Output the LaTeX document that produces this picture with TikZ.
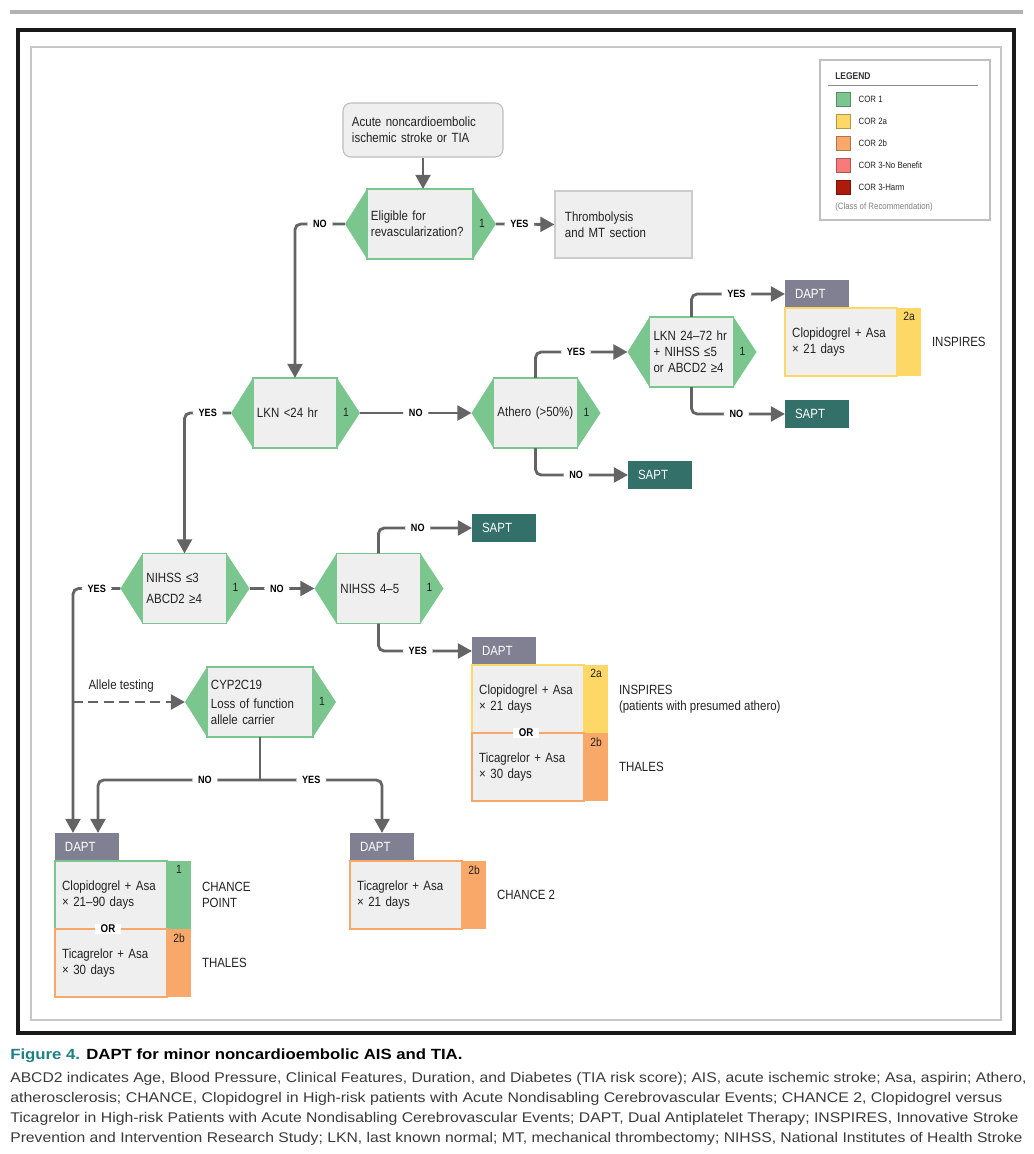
\documentclass[tikz,border=0pt]{standalone}
\usepackage{fontspec}
\setmainfont{Liberation Sans}[FakeStretch=0.86]
\newfontfamily\capfont{Liberation Sans}
\usetikzlibrary{arrows.meta,calc,positioning}

\definecolor{corgreen}{HTML}{7BC68E}
\definecolor{coryellow}{HTML}{FDD867}
\definecolor{cororange}{HTML}{F8A868}
\definecolor{corpink}{HTML}{F87B7B}
\definecolor{corred}{HTML}{AE1A0C}
\definecolor{saptteal}{HTML}{33706A}
\definecolor{daptgray}{HTML}{817F92}
\definecolor{boxgray}{HTML}{EFEFEF}
\definecolor{flowgray}{HTML}{646464}
\definecolor{txtdark}{HTML}{222222}
\definecolor{figteal}{HTML}{1F7F86}
\definecolor{capgray}{HTML}{3A3A3A}

\newcommand{\maintext}{\fontsize{9.5}{11.4}\selectfont}

% green side wedges of a decision, with its class number
\newcommand{\wings}[1]{%
  \fill[corgreen] (#1.north west) -- ($(#1.west)+(-22,0)$) coordinate (#1-l) -- (#1.south west) -- cycle;
  \fill[corgreen] (#1.north east) -- ($(#1.east)+(23,0)$) coordinate (#1-r) -- (#1.south east) -- cycle;
  \node[font=\fontsize{8.5}{9}\selectfont, text=txtdark] (#1-c) at ($(#1.east)+(9,-1)$) {1};
}

\tikzset{
  flow/.style={draw=flowgray, line width=2pt, rounded corners=4pt, -{Triangle[length=10pt,width=10.5pt]}},
  link/.style={draw=flowgray, line width=2pt},
  lbl/.style={fill=white, text=black, font=\bfseries\fontsize{7.5}{8}\selectfont, inner xsep=0.15cm, inner ysep=1pt},
  dec/.style={draw=corgreen, fill=boxgray, line width=1.3pt, minimum height=1.75cm, text width=#1, inner xsep=0.1cm, align=left, font=\maintext, text=txtdark, outer sep=0pt},
  dec/.default=1.9cm,
  hd/.style={fill=#1, text=white, minimum height=0.7cm, text width=1.1cm, inner xsep=0.25cm, align=left, font=\maintext, outer sep=0pt},
  rec/.style={fill=boxgray, draw=#1, line width=1.4pt, minimum height=1.7cm, text width=2.44cm, inner xsep=0.18cm, align=left, font=\maintext, text=txtdark, anchor=north west, outer sep=0pt},
  strip/.style={fill=#1, minimum width=0.6cm, minimum height=1.7cm, inner sep=0pt, anchor=north west, outer sep=0pt},
  cls/.style={anchor=north, font=\fontsize{8.5}{9}\selectfont, text=txtdark, inner sep=3pt},
  ornode/.style={fill=white, text=black, font=\bfseries\fontsize{8}{9}\selectfont, inner xsep=0.15cm, inner ysep=0.5pt},
  study/.style={font=\maintext, text=txtdark, align=left},
  swatch/.style={fill=#1, draw=#1!70!black, line width=0.5pt, minimum size=0.35cm, inner sep=0pt},
  legtxt/.style={font=\fontsize{6.5}{7}\selectfont, text=txtdark, inner sep=0pt},
}

\begin{document}
\begin{tikzpicture}[x=0.025cm,y=-0.025cm]
\useasboundingbox (0,0) rectangle (1033,1154);

\fill[black!30] (10,10) rectangle (1023,14);
\draw[line width=2.5pt, black!90] (18,30) rectangle (1014,1033);
\draw[line width=0.8pt, black!22] (31,47) rectangle (1001,1020);

% legend
\draw[line width=0.8pt, black!25] (820,60) rectangle (990,220);
\node[anchor=west, font=\bfseries\fontsize{7}{8}\selectfont, text=black!80, inner sep=0pt] (legtitle) at (835,76) {LEGEND};
\draw[black!45, line width=0.6pt] (828,85) -- (978,85);
\foreach \col/\txt [count=\i] in {corgreen/COR 1, coryellow/COR 2a, cororange/COR 2b, corpink/COR 3-No Benefit, corred/COR 3-Harm} {
  \node[swatch=\col] (sw\i) at (843,77+22*\i) {};
  \node[legtxt, right=0.2cm of sw\i] (lt\i) {\txt};
}
\node[anchor=west, legtxt, text=black!50] (legnote) at (835,207) {(Class of Recommendation)};

% decisions
\node[draw=black!25, fill=boxgray, line width=0.8pt, rounded corners=0.2cm, minimum height=1.35cm, text width=3.55cm, inner xsep=0.225cm, align=left, font=\maintext, text=txtdark] (start) at (423,130) {Acute noncardioembolic\\ischemic stroke or TIA};

\node[dec=2.45cm] (elig) at (420,224) {Eligible for\\revascularization?};
\wings{elig}
\node[draw=black!20, fill=boxgray, line width=0.8pt, minimum height=1.675cm, text width=2.925cm, inner xsep=0.25cm, align=left, font=\maintext, text=txtdark] (thr) at (623.5,224.5) {Thrombolysis\\and MT section};

\node[dec] (lkn) at (295,413) {LKN <24 hr};
\wings{lkn}
\node[dec] (athero) at (535.5,413) {Athero (>50\%)};
\wings{athero}
\node[dec] (lknlate) at (691.5,352) {LKN 24–72 hr\\+ NIHSS ≤5\\or ABCD2 ≥4};
\wings{lknlate}
\node[dec] (nihlow) at (184.5,588.5) {NIHSS ≤3\\[3pt]ABCD2 ≥4};
\wings{nihlow}
\node[dec] (nihmid) at (378.5,588.5) {NIHSS 4–5};
\wings{nihmid}
\node[dec=2.45cm] (cyp) at (260,702) {CYP2C19\\[2pt]Loss of function\\allele carrier};
\wings{cyp}

% outcomes
\node[hd=daptgray, anchor=west] (dapt1) at (785,294) {DAPT};
\node[rec=coryellow] (r1) at (dapt1.south west) {Clopidogrel + Asa\\× 21 days};
\node[strip=coryellow] (s1) at (r1.north east) {};
\node[cls] (c1) at (s1.north) {2a};
\node[study, right=0.15cm of s1] (st1) {INSPIRES};

\node[hd=saptteal, anchor=west] (sapt2) at (785,414) {SAPT};
\node[hd=saptteal, anchor=west] (sapt1) at (628,475) {SAPT};
\node[hd=saptteal, anchor=west] (sapt3) at (472,528) {SAPT};

\node[hd=daptgray, anchor=west] (dapt2) at (472,651) {DAPT};
\node[rec=coryellow] (r2a) at (dapt2.south west) {Clopidogrel + Asa\\× 21 days};
\node[strip=coryellow] (s2a) at (r2a.north east) {};
\node[cls] (c2a) at (s2a.north) {2a};
\node[rec=cororange] (r2b) at (r2a.south west) {Ticagrelor + Asa\\× 30 days};
\node[strip=cororange] (s2b) at (r2b.north east) {};
\node[cls] (c2b) at (s2b.north) {2b};
\node[ornode] (or2) at ($(r2a.south west)+(54,0)$) {OR};
\node[study, right=0.15cm of s2a] (st2a) {INSPIRES\\(patients with presumed athero)};
\node[study, right=0.15cm of s2b] (st2b) {THALES};

\node[hd=daptgray] (dapt3) at (87,847) {DAPT};
\node[rec=corgreen] (r3a) at (dapt3.south west) {Clopidogrel + Asa\\× 21–90 days};
\node[strip=corgreen] (s3a) at (r3a.north east) {};
\node[cls] (c3a) at (s3a.north) {1};
\node[rec=cororange] (r3b) at (r3a.south west) {Ticagrelor + Asa\\× 30 days};
\node[strip=cororange] (s3b) at (r3b.north east) {};
\node[cls] (c3b) at (s3b.north) {2b};
\node[ornode] (or3) at ($(r3a.south west)+(53,0)$) {OR};
\node[study, right=0.15cm of s3a] (st3a) {CHANCE\\POINT};
\node[study, right=0.15cm of s3b] (st3b) {THALES};

\node[hd=daptgray] (dapt4) at (382,847) {DAPT};
\node[rec=cororange] (r4) at (dapt4.south west) {Ticagrelor + Asa\\× 21 days};
\node[strip=cororange] (s4) at (r4.north east) {};
\node[cls] (c4) at (s4.north) {2b};
\node[study, right=0.15cm of s4] (st4) {CHANCE 2};

% connectors
\coordinate (in3a) at ($(dapt3.north west)+(18,0)$);
\coordinate (in3b) at ($(dapt3.north west)+(43,0)$);
\coordinate (tap) at (in3a |- cyp.west);

\draw[flow] (start.south) -- (start.south |- elig.north);
\draw[flow] (elig-l) -| node[lbl,pos=0.25] (no1) {NO} (lkn.north);
\draw[flow] (elig-r) -- node[lbl,pos=0.4] (yes1) {YES} (thr.west);
\draw[flow] (lkn-r) -- node[lbl] (no2) {NO} (athero-l);
\draw[flow] (lkn-l) -| node[lbl,pos=0.25] (yes2) {YES} (nihlow.north);
\draw[flow] (athero.north) |- node[lbl,pos=0.72] (yes3) {YES} (lknlate-l);
\draw[flow] (athero.south) |- node[lbl,pos=0.72] (no3) {NO} (sapt1.west);
\draw[flow] (lknlate.north) |- node[lbl,pos=0.74] (yes4) {YES} (dapt1.west);
\draw[flow] (lknlate.south) |- node[lbl,pos=0.74] (no4) {NO} (sapt2.west);
\draw[flow] (nihlow-r) -- node[lbl,pos=0.42] (no5) {NO} (nihmid-l);
\draw[flow] (nihmid.north) |- node[lbl,pos=0.71] (no6) {NO} (sapt3.west);
\draw[flow] (nihmid.south) |- node[lbl,pos=0.71] (yes6) {YES} (dapt2.west);
\draw[flow] (nihlow-l) -| node[lbl,pos=0.25] (yes5) {YES} (in3a);

\draw[flow, dash pattern=on 7pt off 4pt] (tap) -- (cyp-l);
\node[font=\maintext, text=txtdark, anchor=south, inner sep=0pt] (allele) at ($(tap)!0.43!(cyp-l)+(0,-9)$) {Allele testing};

\draw[link] (cyp.south) -- ++(0,43) coordinate (split);
\draw[flow] (split) -| node[lbl,pos=0.17] (no7) {NO} (in3b);
\draw[flow] (split) -| node[lbl,pos=0.21] (yes7) {YES} (dapt4.north);

% caption
\node[anchor=base west, inner sep=0pt] (captitle) at (10,1059) {\resizebox{11.3cm}{\height}{\capfont\bfseries\fontsize{10.5}{12}\selectfont\textcolor{figteal}{Figure 4.} DAPT for minor noncardioembolic AIS and TIA.}};
\node[anchor=base west, inner sep=0pt, text=capgray] (cap1) at (10,1082) {\resizebox{25.4cm}{\height}{\capfont\fontsize{10}{12}\selectfont ABCD2 indicates Age, Blood Pressure, Clinical Features, Duration, and Diabetes (TIA risk score); AIS, acute ischemic stroke; Asa, aspirin; Athero,}};
\node[anchor=base west, inner sep=0pt, text=capgray] (cap2) at (10,1102) {\resizebox{24.8cm}{\height}{\capfont\fontsize{10}{12}\selectfont atherosclerosis; CHANCE, Clopidogrel in High-risk patients with Acute Nondisabling Cerebrovascular Events; CHANCE 2, Clopidogrel versus}};
\node[anchor=base west, inner sep=0pt, text=capgray] (cap3) at (10,1122) {\resizebox{25.2cm}{\height}{\capfont\fontsize{10}{12}\selectfont Ticagrelor in High-risk Patients with Acute Nondisabling Cerebrovascular Events; DAPT, Dual Antiplatelet Therapy; INSPIRES, Innovative Stroke}};
\node[anchor=base west, inner sep=0pt, text=capgray] (cap4) at (10,1142) {\resizebox{25.3cm}{\height}{\capfont\fontsize{10}{12}\selectfont Prevention and Intervention Research Study; LKN, last known normal; MT, mechanical thrombectomy; NIHSS, National Institutes of Health Stroke}};
\end{tikzpicture}
\end{document}
